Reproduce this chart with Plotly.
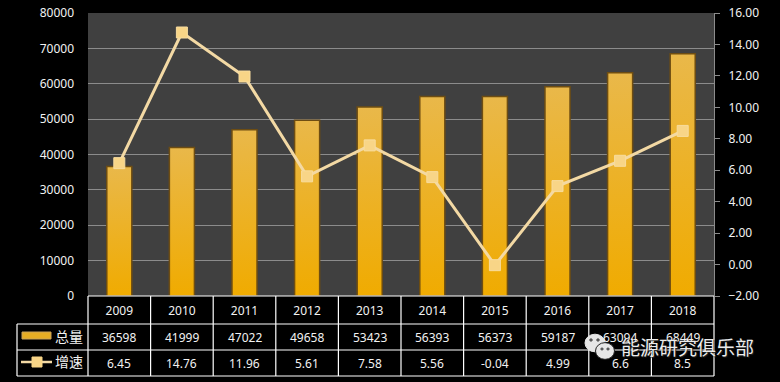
import plotly.graph_objects as go

years = ["2009", "2010", "2011", "2012", "2013", "2014", "2015", "2016", "2017", "2018"]
total = [36598, 41999, 47022, 49658, 53423, 56393, 56373, 59187, 63094, 68449]
growth = [6.45, 14.76, 11.96, 5.61, 7.58, 5.56, -0.04, 4.99, 6.6, 8.5]
growth_labels = ["6.45", "14.76", "11.96", "5.61", "7.58", "5.56", "-0.04", "4.99", "6.6", "8.5"]
name_total = "总量"
name_growth = "增速"
watermark = "能源研究俱乐部"

W, H = 780, 382
L, R, T, B = 88, 714, 13, 296
FONT = "Noto Sans, Noto Sans CJK SC"
TXT = "#f2f2f2"
LINE = "#f3d9a4"
GRID = "#8c8c8c"


def px(x):
    return (x - L) / (R - L)


def py(y):
    return (B - y) / (B - T)


def seg(x0, y0, x1, y1, color="#ffffff", width=1.2):
    return dict(type="line", xref="paper", yref="paper", x0=px(x0), y0=py(y0), x1=px(x1), y1=py(y1),
                line=dict(color=color, width=width), layer="above")


def ell(cx, cy, r, color, border=None):
    return dict(type="circle", xref="paper", yref="paper", x0=px(cx - r), x1=px(cx + r),
                y0=py(cy - r * 0.88), y1=py(cy + r * 0.88), fillcolor=color,
                line=dict(color=border or color, width=1), layer="above")


fig = go.Figure()
fig.add_bar(x=years, y=total, name=name_total, yaxis="y",
            marker=dict(color="#e9b22c", line=dict(color="#6e4d12", width=1.5)), width=0.4)
fig.add_scatter(x=years, y=growth, name=name_growth, yaxis="y2", mode="lines+markers",
                line=dict(color=LINE, width=3),
                marker=dict(symbol="square", size=11, color="#f8d587", line=dict(color="#f8dc9e", width=1)))

shapes = []
step = (R - L) / len(years)
for i in range(len(years) + 1):
    x = L + i * step
    shapes.append(seg(x, B, x, 376))
shapes.append(seg(17, 324, 17, 376))
for y in (324, 350, 376):
    shapes.append(seg(17, y, R, y))
shapes.append(seg(L, B, R, B))
# legend keys
shapes.append(dict(type="rect", xref="paper", yref="paper", x0=px(22), x1=px(51), y0=py(332), y1=py(339),
                   fillcolor="#e6ad24", line=dict(color="#c9a25a", width=1), layer="above"))
shapes.append(seg(21, 362, 52, 362, LINE, 2.5))
shapes.append(dict(type="rect", xref="paper", yref="paper", x0=px(32), x1=px(42), y0=py(357), y1=py(367),
                   fillcolor="#f8d587", line=dict(color="#f8d587", width=1), layer="above"))
# watermark icon
shapes.append(ell(595, 343, 10, "#e6e6e6"))
shapes.append(ell(605, 351, 9.5, "#e6e6e6", "#222222"))
for cx, cy, r, c in [(591, 340, 1.3, "#555555"), (598, 340, 1.3, "#555555"),
                     (602, 349, 1.2, "#555555"), (608, 349, 1.2, "#555555")]:
    shapes.append(ell(cx, cy, r, c))

ann = []


def label(x, y, text, size=12, color=TXT, xref="paper", **kw):
    ann.append(dict(x=x, y=py(y), xref=xref, yref="paper", text=text, showarrow=False,
                    font=dict(family=FONT, size=size, color=color, **kw),
                    xanchor="center", yanchor="middle"))


for i in range(len(years)):
    cx = px(L + (i + 0.5) * step)
    label(cx, 337, str(total[i]))
    label(cx, 363, growth_labels[i])
label(px(69), 336, name_total, size=14)
label(px(69), 362, name_growth, size=14)
label(px(687.5), 348, watermark, size=19, color="#ececec", shadow="1px 1px 1px #222222")

fig.update_layout(
    width=W, height=H, autosize=False, margin=dict(l=L, r=W - R, t=T, b=H - B, autoexpand=False),
    paper_bgcolor="#000000", plot_bgcolor="#404040", showlegend=False,
    font=dict(family=FONT, size=12, color=TXT),
    shapes=shapes, annotations=ann,
    xaxis=dict(type="category", range=[-0.5, 9.5], showgrid=False, ticks="", showline=False, ticklabelstandoff=6,
               automargin=False, tickfont=dict(size=12, color=TXT)),
    yaxis=dict(range=[0, 80000], dtick=10000, tickformat="d", gridcolor=GRID, gridwidth=1, zeroline=False,
               showline=False, ticks="", ticklabelstandoff=13, automargin=False,
               tickfont=dict(size=12, color=TXT)),
    yaxis2=dict(range=[-2, 16], dtick=2, overlaying="y", side="right", showgrid=False, zeroline=False,
                tickformat=".2f", showline=True, linecolor=GRID, ticks="outside", ticklen=5,
                tickcolor=GRID, ticklabelstandoff=6, automargin=False, tickfont=dict(size=12, color=TXT)),
)

post = """
document.documentElement.style.background='#000000';
document.body.style.background='#000000';
document.body.style.margin='0';
var svg = document.querySelector('.main-svg');
var ns = 'http://www.w3.org/2000/svg';
var defs = svg.querySelector('defs') || svg.insertBefore(document.createElementNS(ns,'defs'), svg.firstChild);
var g = document.createElementNS(ns,'linearGradient');
g.setAttribute('id','barfade'); g.setAttribute('x1','0'); g.setAttribute('y1','0');
g.setAttribute('x2','0'); g.setAttribute('y2','1');
[['0%','#e9b84a'],['100%','#f0ab00']].forEach(function(s){
  var st = document.createElementNS(ns,'stop');
  st.setAttribute('offset',s[0]); st.setAttribute('stop-color',s[1]); g.appendChild(st);
});
defs.appendChild(g);
document.querySelectorAll('.bars .point path').forEach(function(p){ p.style.fill='url(#barfade)'; });
"""
fig.write_html("out.html", post_script=post, config={"displayModeBar": False})
